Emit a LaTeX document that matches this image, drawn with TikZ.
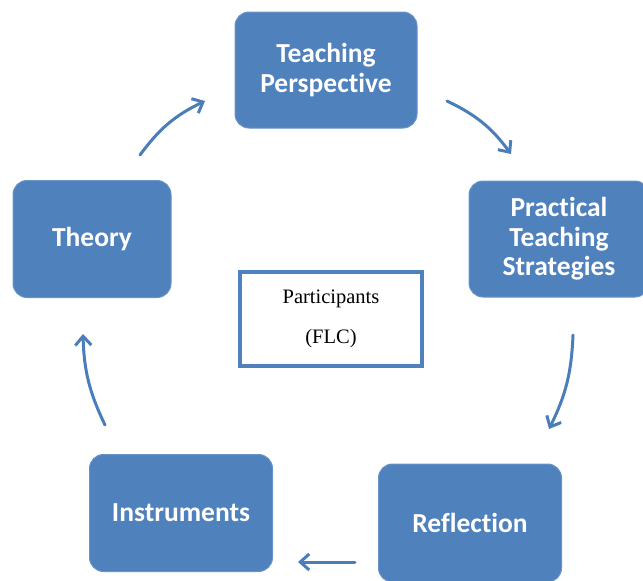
\documentclass[tikz,border=0pt]{standalone}
\usepackage{fontspec}
\setmainfont{Carlito}[Ligatures=NoCommon]
\newfontfamily\serifface{Liberation Serif}
\usetikzlibrary{arrows.meta}
\definecolor{boxblue}{HTML}{4F81BD}
\definecolor{edgeblue}{HTML}{4A7EBB}
\tikzset{
  stage/.style={rounded corners=14pt, fill=boxblue, draw=boxblue!85!white, line width=1pt,
    text=white, font=\bfseries\fontsize{27.5}{29.5}\selectfont, align=center, inner sep=0pt},
  centerbox/.style={draw=boxblue, line width=4pt, fill=white, align=center,
    font=\serifface\fontsize{20.5}{40}\selectfont, inner sep=0pt},
  flow/.style={draw=edgeblue, line width=3pt, line cap=round,
    -{Straight Barb[length=9pt,width=16pt,line width=3pt]}}
}
\begin{document}
\begin{tikzpicture}[x=1pt,y=-1pt]
\useasboundingbox (0,0) rectangle (643,581);
% stages of the cycle
\node[stage, minimum width=182pt, minimum height=116pt] (tp) at (326,70) {Teaching\\Perspective};
\node[stage, minimum width=180pt, minimum height=116pt] (pts) at (559,239) {Practical\\Teaching\\Strategies};
\node[stage, minimum width=183pt, minimum height=118pt] (refl) at (470,523) {Reflection};
\node[stage, minimum width=183pt, minimum height=117pt] (instr) at (181,513) {Instruments};
\node[stage, minimum width=158pt, minimum height=117pt] (theory) at (92,239) {Theory};
% centre box
\node[centerbox, minimum width=182pt, minimum height=94pt] (part) at (331,319) {Participants\\(FLC)};
% arrow end points between the stages
\coordinate (a1s) at (140,155); \coordinate (a1e) at (205,101);
\coordinate (a2s) at (447,101); \coordinate (a2e) at (511,154);
\coordinate (a3s) at (573,335); \coordinate (a3e) at (549,429);
\coordinate (a4s) at (355,562); \coordinate (a4e) at (298,562);
\coordinate (a5s) at (105,425); \coordinate (a5e) at (83,334);
\draw[flow] (a1s) to[bend left=14] (a1e);
\draw[flow] (a2s) to[bend left=14] (a2e);
\draw[flow] (a3s) to[bend left=12] (a3e);
\draw[flow] (a4s) -- (a4e);
\draw[flow] (a5s) to[bend left=12] (a5e);
\end{tikzpicture}
\end{document}
